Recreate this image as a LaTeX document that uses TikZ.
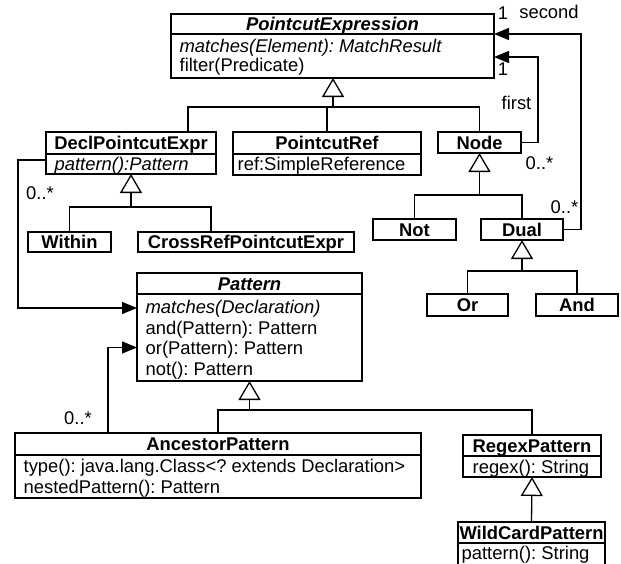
\documentclass[tikz,border=0pt]{standalone}
\usepackage{fontspec}
\setmainfont{Liberation Sans}
\usetikzlibrary{arrows.meta}
\frenchspacing
\begin{document}
\begin{tikzpicture}[x=1pt,y=-1pt,
  line width=1.3pt,
  font=\fontsize{18.4}{20}\selectfont,
  cls/.style={draw, rectangle, inner sep=0pt, outer sep=0pt, anchor=north west},
  txt/.style={inner sep=0pt, text height=13.2pt, text depth=0pt},
  row/.style={txt, anchor=west},
  ttl/.style={txt, font=\fontsize{18.4}{20}\selectfont\bfseries},
  gen/.style={-{Triangle[open,length=19pt,width=22pt]}},
  assoc/.style={-{Triangle[length=15pt,width=12pt]}},
]
\fill[white] (0,0) rectangle (621,563);
\useasboundingbox (0,0) rectangle (621,563);

% ---- class boxes ----
\node[cls, minimum width=323pt, minimum height=64pt] (pe) at (171,14) {};
\draw (pe.west |- 0,34) -- (pe.east |- 0,34);
\node[ttl] (pe-t) at (332.5,24) {\itshape PointcutExpression};
\node[row] (pe-r1) at (179,46) {\itshape matches(Element): MatchResult};
\node[row] (pe-r2) at (179,65) {filter(Predicate)};

\node[cls, minimum width=170pt, minimum height=42pt] (decl) at (46,132) {};
\draw (decl.west |- 0,154) -- (decl.east |- 0,154);
\node[ttl] (decl-t) at (131,143) {DeclPointcutExpr};
\node[row] (decl-r1) at (54,164) {\itshape pattern():Pattern};

\node[cls, minimum width=188pt, minimum height=43pt] (pref) at (233,132) {};
\draw (pref.west |- 0,154) -- (pref.east |- 0,154);
\node[ttl] (pref-t) at (327,143) {PointcutRef};
\node[row] (pref-r1) at (237,164) {ref:SimpleReference};

\node[cls, minimum width=83pt, minimum height=21pt] (nd) at (438,132) {};
\node[ttl] (nd-t) at (479.5,142.5) {Node};

\node[cls, minimum width=83pt, minimum height=20pt] (within) at (28,232) {};
\node[ttl] (within-t) at (69.5,242) {Within};

\node[cls, minimum width=216pt, minimum height=20pt] (cross) at (138,232) {};
\node[ttl] (cross-t) at (246,242) {CrossRefPointcutExpr};

\node[cls, minimum width=83pt, minimum height=21pt] (not) at (373,219) {};
\node[ttl] (not-t) at (414.5,229.5) {Not};

\node[cls, minimum width=82pt, minimum height=21pt] (dual) at (481,219) {};
\node[ttl] (dual-t) at (522,229.5) {Dual};

\node[cls, minimum width=81pt, minimum height=22pt] (or) at (427,294) {};
\node[ttl] (or-t) at (467.5,305) {Or};

\node[cls, minimum width=82pt, minimum height=22pt] (and) at (536,294) {};
\node[ttl] (and-t) at (577,305) {And};

\node[cls, minimum width=225pt, minimum height=108pt] (pat) at (137,273) {};
\draw (pat.west |- 0,294) -- (pat.east |- 0,294);
\node[ttl] (pat-t) at (249.5,284) {\itshape Pattern};
\node[row] (pat-r1) at (145,307) {\itshape matches(Declaration)};
\node[row] (pat-r2) at (145,327.5) {and(Pattern): Pattern};
\node[row] (pat-r3) at (145,348) {or(Pattern): Pattern};
\node[row] (pat-r4) at (145,368.5) {not(): Pattern};

\node[cls, minimum width=406pt, minimum height=65pt] (anc) at (15,433) {};
\draw (anc.west |- 0,455) -- (anc.east |- 0,455);
\node[ttl] (anc-t) at (218,444) {AncestorPattern};
\node[row] (anc-r1) at (23,466) {type(): java.lang.Class<? extends Declaration>};
\node[row] (anc-r2) at (23,487) {nestedPattern(): Pattern};

\node[cls, minimum width=138pt, minimum height=42pt] (rgx) at (463,435) {};
\draw (rgx.west |- 0,456) -- (rgx.east |- 0,456);
\node[ttl] (rgx-t) at (532,445.5) {RegexPattern};
\node[row] (rgx-r1) at (472,466.5) {regex(): String};

\node[cls, minimum width=147pt, minimum height=50pt] (wild) at (458,522) {};
\draw (wild.west |- 0,543) -- (wild.east |- 0,543);
\node[ttl] (wild-t) at (531.5,532.5) {WildCardPattern};
\node[row] (wild-r1) at (461,553) {pattern(): String};

% ---- generalizations ----
\coordinate (pebar) at (333,107);
\draw (decl.north -| 188,0) |- (pebar) -| (nd.north);
\draw (pref.north) -- (pref.north |- pebar);
\draw[gen] (pebar) -- (pebar |- pe.south);

\coordinate (declbar) at (131,207);
\draw (within.north) |- (declbar) -| (cross.north -| 211,0);
\draw[gen] (declbar) -- (decl.south);

\coordinate (ndbar) at (479.5,195);
\draw (not.north) |- (ndbar) -| (dual.north);
\draw[gen] (ndbar) -- (nd.south);

\coordinate (dualbar) at (522,271);
\draw (or.north) |- (dualbar) -| (and.north);
\draw[gen] (dualbar) -- (dual.south);

\coordinate (patbar) at (249.5,410);
\draw (anc.north) |- (patbar) -| (rgx.north);
\draw[gen] (patbar) -- (pat.south);

\draw[gen] (wild.north) -- (rgx.south);

% ---- associations ----
\coordinate (secondturn) at (581,34);
\draw[assoc] (dual.east) -| (secondturn) -- (pe.east |- secondturn);
\coordinate (firstturn) at (538,57);
\draw[assoc] (nd.east) -| (firstturn) -- (pe.east |- firstturn);
\coordinate (declturn) at (18,308);
\draw[assoc] (decl.west |- 0,160) -| (declturn) -- (pat.west |- declturn);
\coordinate (ancturn) at (108,347.5);
\draw[assoc] (anc.north -| ancturn) -- (ancturn) -- (pat.west |- ancturn);

% ---- role names and multiplicities ----
\node[txt] (m-sec1) at (503,13) {1};
\node[txt] (r-sec) at (549,11.5) {second};
\node[txt] (m-sec2) at (564.5,207) {0..*};
\node[txt] (m-fst1) at (503,69) {1};
\node[txt] (r-fst) at (516.5,103) {first};
\node[txt] (m-fst2) at (539.5,163) {0..*};
\node[txt] (m-decl) at (40,193) {0..*};
\node[txt] (m-anc) at (78,418) {0..*};
\end{tikzpicture}
\end{document}
